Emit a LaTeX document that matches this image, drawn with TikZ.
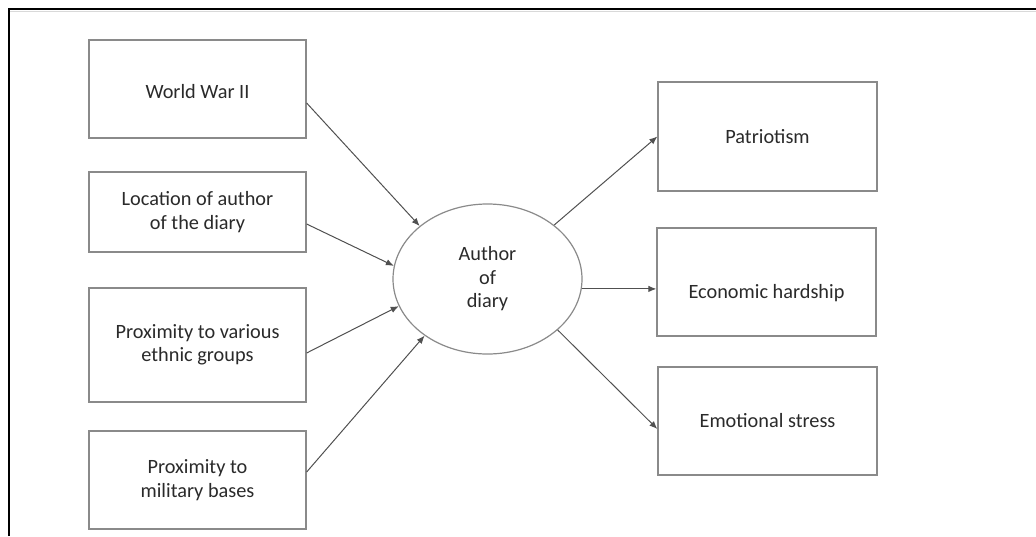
\documentclass[tikz,border=0pt]{standalone}
\usepackage{fontspec}
\setmainfont{Carlito}
\usetikzlibrary{arrows.meta,shapes.geometric}
\definecolor{boxline}{HTML}{8A8A8A}
\definecolor{arrowline}{HTML}{505050}
\definecolor{txt}{HTML}{2A2A2A}
\begin{document}
\begin{tikzpicture}[x=1pt,y=-1pt,
  box/.style={draw=boxline, line width=1.3pt, fill=white, inner sep=0pt,
    align=center, text=txt, font=\fontsize{20.3}{23.5}\selectfont},
  hub/.style={draw=boxline, line width=1.2pt, ellipse, inner sep=0pt,
    minimum width=189pt, minimum height=150pt, align=center, text=txt,
    font=\fontsize{20.3}{23.5}\selectfont},
  link/.style={draw=arrowline, line width=1pt,
    -{Latex[length=8pt,width=6.5pt]}}]
\useasboundingbox (0,0) rectangle (1036,536);
% page frame
\draw[line width=2pt, black] (9,536) -- (9,9) -- (1036,9);
\draw[line width=1pt, black!15] (10,11.5) -- (1036,11.5);

% left column
\node[box, minimum width=217pt, minimum height=98pt, text height=20pt] (b1) at (197.5,89) {World War II};
\node[box, minimum width=217pt, minimum height=80pt] (b2) at (197.5,212) {Location of author\\of the diary};
\node[box, minimum width=217pt, minimum height=114pt] (b3) at (197.5,345) {Proximity to various\\ethnic groups};
\node[box, minimum width=217pt, minimum height=98pt] (b4) at (197.5,480) {Proximity to\\military bases};

% centre
\node[hub] (e) at (487.5,279) {Author\\of\\diary};

% right column
\node[box, minimum width=219pt, minimum height=109pt] (r1) at (767.5,136.5) {Patriotism};
\node[box, minimum width=219pt, minimum height=108pt, text height=36pt] (r2) at (766.5,282) {Economic hardship};
\node[box, minimum width=219pt, minimum height=108pt] (r3) at (767.5,421) {Emotional stress};

% influences
\draw[link] ([yshift=-14pt]b1.east) -- (e.142);
\draw[link] ([yshift=-12pt]b2.east) -- (e.172);
\draw[link] ([yshift=-8pt]b3.east) -- (e.197);
\draw[link] ([yshift=8pt]b4.east) -- (e.222);

% outcomes
\draw[link] (e.39) -- (r1.west);
\draw[link] (e.-6) -- (e.-6 -| r2.west);
\draw[link] (e.-36) -- ([yshift=-8pt]r3.west);
\end{tikzpicture}
\end{document}
